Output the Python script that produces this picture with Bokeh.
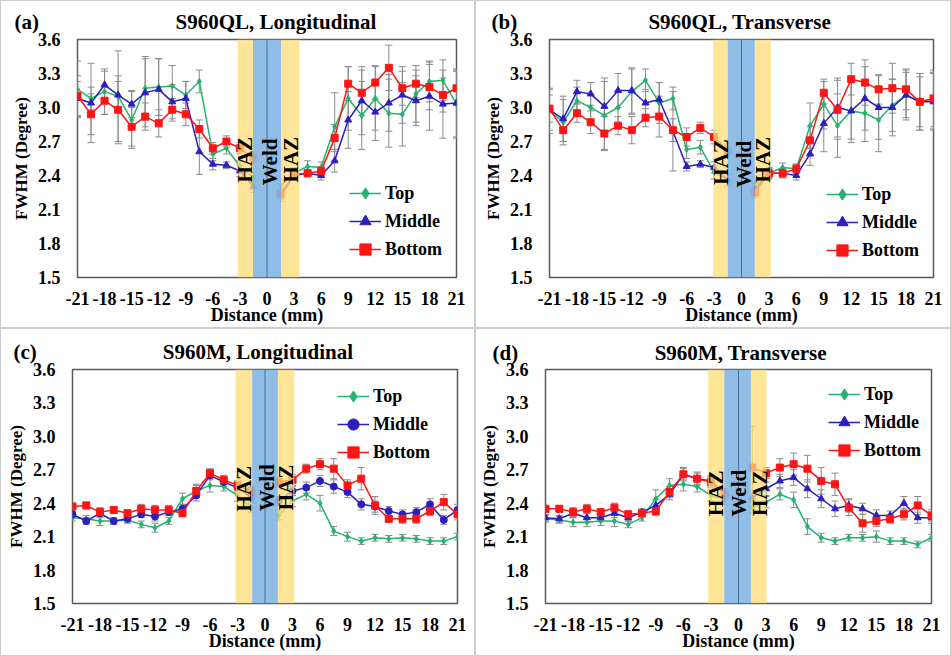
import math
import numpy as np
from bokeh.plotting import figure
from bokeh.layouts import column, row
from bokeh.models import (Range1d, FixedTicker, PrintfTickFormatter, Whisker, TeeHead,
                          ColumnDataSource, Label, Legend, LegendItem, Span)
from bokeh.embed import file_html
from bokeh.resources import INLINE

# ---------------- data ----------------
distance = [-21, -19.5, -18, -16.5, -15, -13.5, -12, -10.5, -9, -7.5, -6, -4.5, -3, -1.5,
            1.5, 3, 4.5, 6, 7.5, 9, 10.5, 12, 13.5, 15, 16.5, 18, 19.5, 21]
x_ticks = [-21, -18, -15, -12, -9, -6, -3, 0, 3, 6, 9, 12, 15, 18, 21]
y_ticks = [1.5, 1.8, 2.1, 2.4, 2.7, 3.0, 3.3, 3.6]
series_names = ["Top", "Middle", "Bottom"]

# (a) S960QL, Longitudinal
a_top = [3.16, 3.08, 3.14, 3.10, 2.89, 3.17, 3.18, 3.19, 3.11, 3.23, 2.59, 2.64, 2.48, 2.38,
         2.31, 2.42, 2.48, 2.47, 2.83, 3.08, 2.93, 3.08, 2.95, 2.94, 3.12, 3.23, 3.24, 3.03]
a_mid = [3.08, 3.04, 3.20, 3.11, 3.03, 3.13, 3.16, 3.05, 3.08, 2.61, 2.50, 2.49, 2.44, 2.30,
         2.22, 2.40, 2.42, 2.40, 2.53, 2.89, 3.06, 2.96, 3.04, 3.11, 3.06, 3.10, 3.03, 3.04]
a_bot = [3.10, 2.94, 3.06, 2.98, 2.83, 2.92, 2.86, 2.98, 2.94, 2.81, 2.64, 2.70, 2.64, 2.56,
         2.24, 2.41, 2.42, 2.44, 2.73, 3.21, 3.13, 3.22, 3.35, 3.17, 3.21, 3.18, 3.11, 3.17]
a_top_err = [0.25, 0.10, 0.20, 0.40, 0.25, 0.28, 0.25, 0.18, 0.12, 0.10, 0.06, 0.05, 0.05, 0.05,
             0.05, 0.05, 0.05, 0.05, 0.30, 0.28, 0.30, 0.28, 0.30, 0.28, 0.25, 0.18, 0.18, 0.30]
a_mid_err = [0.15, 0.35, 0.12, 0.12, 0.12, 0.30, 0.27, 0.15, 0.15, 0.20, 0.05, 0.03, 0.05, 0.05,
             0.05, 0.03, 0.03, 0.04, 0.10, 0.25, 0.30, 0.25, 0.25, 0.25, 0.22, 0.30, 0.30, 0.30]
a_bot_err = [0.18, 0.18, 0.12, 0.30, 0.17, 0.12, 0.12, 0.10, 0.10, 0.08, 0.05, 0.05, 0.05, 0.05,
             0.05, 0.03, 0.03, 0.04, 0.12, 0.15, 0.20, 0.15, 0.20, 0.15, 0.12, 0.20, 0.15, 0.15]

# (b) S960QL, Transverse
b_top = [2.97, 2.87, 3.06, 3.00, 2.93, 3.00, 3.14, 3.24, 3.04, 3.08, 2.63, 2.65, 2.43, 2.36,
         2.33, 2.42, 2.47, 2.46, 2.84, 3.03, 2.84, 2.97, 2.95, 2.89, 3.02, 3.11, 3.05, 3.06]
b_mid = [2.98, 2.90, 3.14, 3.12, 3.01, 3.15, 3.15, 3.04, 3.07, 2.79, 2.48, 2.50, 2.47, 2.36,
         2.28, 2.42, 2.42, 2.40, 2.59, 2.86, 3.00, 2.97, 3.08, 3.00, 3.00, 3.11, 3.05, 3.05]
b_bot = [2.99, 2.80, 2.95, 2.87, 2.77, 2.84, 2.80, 2.91, 2.92, 2.80, 2.74, 2.82, 2.74, 2.62,
         2.25, 2.42, 2.42, 2.46, 2.71, 3.13, 2.98, 3.25, 3.22, 3.16, 3.17, 3.16, 3.05, 3.08]
b_top_err = [0.20, 0.20, 0.12, 0.12, 0.30, 0.15, 0.20, 0.10, 0.18, 0.10, 0.08, 0.06, 0.06, 0.05,
             0.05, 0.05, 0.04, 0.04, 0.20, 0.22, 0.28, 0.28, 0.25, 0.28, 0.23, 0.20, 0.25, 0.25]
b_mid_err = [0.18, 0.20, 0.10, 0.10, 0.25, 0.15, 0.20, 0.12, 0.15, 0.35, 0.04, 0.03, 0.05, 0.05,
             0.05, 0.04, 0.04, 0.04, 0.10, 0.25, 0.26, 0.25, 0.28, 0.28, 0.25, 0.22, 0.25, 0.25]
b_bot_err = [0.12, 0.10, 0.08, 0.10, 0.15, 0.08, 0.12, 0.08, 0.18, 0.10, 0.08, 0.05, 0.06, 0.05,
             0.05, 0.04, 0.04, 0.04, 0.12, 0.10, 0.26, 0.14, 0.20, 0.13, 0.22, 0.18, 0.22, 0.25]

# (c) S960M, Longitudinal
c_top = [2.27, 2.26, 2.24, 2.24, 2.25, 2.21, 2.18, 2.24, 2.44, 2.51, 2.56, 2.55, 2.47, 2.36,
         2.29, 2.42, 2.48, 2.40, 2.15, 2.10, 2.06, 2.09, 2.08, 2.09, 2.08, 2.06, 2.06, 2.10]
c_mid = [2.30, 2.24, 2.31, 2.24, 2.26, 2.30, 2.28, 2.32, 2.35, 2.47, 2.65, 2.59, 2.54, 2.45,
         2.42, 2.51, 2.54, 2.60, 2.55, 2.50, 2.39, 2.37, 2.33, 2.30, 2.32, 2.39, 2.25, 2.34]
c_bot = [2.37, 2.38, 2.32, 2.34, 2.31, 2.35, 2.34, 2.34, 2.31, 2.51, 2.67, 2.61, 2.56, 2.51,
         2.59, 2.61, 2.71, 2.75, 2.71, 2.56, 2.62, 2.38, 2.26, 2.26, 2.26, 2.33, 2.41, 2.30]
c_top_err = [0.03, 0.03, 0.04, 0.03, 0.03, 0.03, 0.04, 0.03, 0.05, 0.06, 0.06, 0.04, 0.05, 0.04,
             0.04, 0.05, 0.05, 0.07, 0.04, 0.04, 0.03, 0.03, 0.03, 0.03, 0.03, 0.03, 0.03, 0.03]
c_mid_err = [0.03, 0.03, 0.04, 0.03, 0.03, 0.03, 0.04, 0.03, 0.04, 0.05, 0.04, 0.04, 0.04, 0.04,
             0.04, 0.04, 0.05, 0.05, 0.06, 0.05, 0.05, 0.05, 0.04, 0.04, 0.04, 0.05, 0.04, 0.05]
c_bot_err = [0.03, 0.03, 0.04, 0.03, 0.03, 0.04, 0.04, 0.04, 0.03, 0.05, 0.04, 0.04, 0.04, 0.04,
             0.04, 0.05, 0.04, 0.05, 0.09, 0.05, 0.10, 0.08, 0.03, 0.04, 0.04, 0.04, 0.07, 0.05]

# (d) S960M, Transverse
d_top = [2.26, 2.25, 2.23, 2.23, 2.24, 2.24, 2.21, 2.27, 2.44, 2.56, 2.57, 2.55, 2.47, 2.43,
         2.36, 2.41, 2.48, 2.43, 2.19, 2.09, 2.06, 2.09, 2.09, 2.10, 2.06, 2.06, 2.03, 2.09]
d_mid = [2.27, 2.26, 2.31, 2.27, 2.27, 2.31, 2.27, 2.32, 2.38, 2.48, 2.66, 2.62, 2.60, 2.48,
         2.45, 2.53, 2.60, 2.63, 2.53, 2.44, 2.35, 2.38, 2.35, 2.29, 2.29, 2.40, 2.27, 2.27]
d_bot = [2.35, 2.35, 2.32, 2.35, 2.32, 2.36, 2.30, 2.31, 2.33, 2.50, 2.66, 2.62, 2.59, 2.48,
         2.72, 2.67, 2.72, 2.75, 2.71, 2.60, 2.57, 2.36, 2.22, 2.24, 2.26, 2.30, 2.38, 2.29]
d_top_err = [0.03, 0.03, 0.04, 0.04, 0.04, 0.05, 0.03, 0.03, 0.08, 0.06, 0.06, 0.05, 0.05, 0.04,
             0.05, 0.05, 0.05, 0.07, 0.07, 0.04, 0.03, 0.03, 0.03, 0.05, 0.03, 0.03, 0.03, 0.03]
d_mid_err = [0.03, 0.03, 0.04, 0.04, 0.03, 0.04, 0.03, 0.03, 0.05, 0.05, 0.06, 0.05, 0.05, 0.05,
             0.05, 0.06, 0.06, 0.07, 0.08, 0.08, 0.07, 0.06, 0.05, 0.05, 0.04, 0.06, 0.05, 0.05]
d_bot_err = [0.03, 0.03, 0.04, 0.04, 0.03, 0.04, 0.03, 0.03, 0.04, 0.05, 0.05, 0.06, 0.05, 0.05,
             0.37, 0.05, 0.08, 0.10, 0.12, 0.12, 0.10, 0.07, 0.08, 0.05, 0.04, 0.05, 0.08, 0.05]

# zone limits: HAZ left start, weld start, weld end, HAZ right end
a_zones = [-3.25, -1.55, 1.55, 3.6]
b_zones = [-3.1, -1.5, 1.45, 3.2]
c_zones = [-3.2, -1.4, 1.4, 3.2]
d_zones = [-3.3, -1.55, 1.35, 3.05]

FONT = "Liberation Serif"
COLORS = ["#25b26e", "#2d1ec0", "#ff1414"]
ERR_COLOR = "#8a8a8a"
NBSP = "\u00a0"


def make_panel(tag, title, data, errs, zones, mid_marker, cfg):
    w, h, bl, br, bt, bb = cfg["size"]
    p = figure(width=w, height=h, output_backend="svg", toolbar_location=None,
               x_range=Range1d(-21, 21), y_range=Range1d(1.5, 3.6),
               min_border_left=bl, min_border_right=br, min_border_top=bt, min_border_bottom=bb,
               background_fill_color="white", border_fill_color="white",
               styles={"border": "1px solid #cdcdcd", "box-sizing": "border-box"})
    p.grid.visible = False
    p.outline_line_color = "#595959"
    p.outline_line_width = 1.5
    for ax in (p.xaxis[0], p.yaxis[0]):
        ax.axis_line_color = None
        ax.major_tick_line_color = None
        ax.minor_tick_line_color = None
        ax.major_tick_out = 0
        ax.major_tick_in = 0
        ax.major_label_text_font = FONT
        ax.major_label_text_font_style = "bold"
        ax.major_label_text_font_size = "18px"
        ax.major_label_text_color = "black"
        ax.axis_label_text_font = FONT
        ax.axis_label_text_font_style = "bold"
        ax.axis_label_text_color = "black"
    p.xaxis.ticker = FixedTicker(ticks=x_ticks)
    p.yaxis.ticker = FixedTicker(ticks=y_ticks)
    p.xaxis.formatter = PrintfTickFormatter(format="%d")
    p.yaxis.formatter = PrintfTickFormatter(format="%.1f")
    p.xaxis.axis_label = "Distance (mm)"
    p.yaxis.axis_label = "FWHM (Degree)"
    p.xaxis.axis_label_text_font_size = "18px"
    p.yaxis.axis_label_text_font_size = "17px"
    p.xaxis.major_label_standoff = 14
    p.yaxis.major_label_standoff = 17
    p.xaxis.axis_label_standoff = -3
    p.yaxis.axis_label_standoff = 4

    # panel tag and title share one title line (tag at the far left, title further right)
    p.title.text = tag + NBSP * cfg["gap"] + title
    p.title.align = "left"
    p.title.text_font = FONT
    p.title.text_font_style = "bold"
    p.title.text_font_size = "21px"
    p.title.text_color = "black"
    p.title.standoff = cfg["title_standoff"]
    p.title.offset = cfg["tag_x"] - bl

    markers = ["diamond", mid_marker, "square"]
    sizes = [6, 7, 7]
    items = []
    n_left = sum(1 for d in distance if d < 0)
    for name, ys, es, col, mk, sz in zip(series_names, data, errs, COLORS, markers, sizes):
        src = ColumnDataSource(dict(x=distance, y=ys,
                                    lo=[v - e for v, e in zip(ys, es)],
                                    hi=[v + e for v, e in zip(ys, es)]))
        wk = Whisker(source=src, base="x", lower="lo", upper="hi", line_color=ERR_COLOR,
                     line_width=1, level="underlay",
                     lower_head=TeeHead(size=7, line_color=ERR_COLOR, line_width=1),
                     upper_head=TeeHead(size=7, line_color=ERR_COLOR, line_width=1))
        p.add_layout(wk)
        lx = list(distance[:n_left]) + [np.nan] + list(distance[n_left:])
        ly = list(ys[:n_left]) + [np.nan] + list(ys[n_left:])
        r1 = p.line(lx, ly, line_color=col, line_width=1.5)
        r2 = p.scatter("x", "y", source=src, marker=mk, size=sz, fill_color=col, line_color=col)
        items.append(LegendItem(label=name, renderers=[r1, r2]))

    # shaded zones drawn over the curves
    p.quad(left=[zones[0], zones[2]], right=[zones[1], zones[3]], bottom=1.5, top=3.6,
           fill_color="#FFDC74", fill_alpha=0.75, line_color=None)
    p.quad(left=[zones[1]], right=[zones[2]], bottom=1.5, top=3.6,
           fill_color="#86B7E3", fill_alpha=0.92, line_color=None)
    p.add_layout(Span(location=0, dimension="height", line_color="#4a6f96", line_width=1))

    for txt, (tx, ty) in zip(["HAZ", "Weld", "HAZ"], cfg["zone_text"]):
        p.add_layout(Label(x=tx, y=ty, text=txt, angle=math.pi / 2, text_align="center",
                           text_baseline="middle", text_font=FONT, text_font_style="bold",
                           text_font_size="21px", text_color="black"))

    leg = Legend(items=items, location=cfg["legend_loc"], orientation="vertical",
                 background_fill_alpha=0, border_line_color=None, margin=0, padding=0,
                 spacing=0, label_height=28, glyph_height=28, glyph_width=32,
                 label_standoff=4, label_text_font=FONT, label_text_font_style="bold",
                 label_text_font_size="18px", label_text_color="black")
    p.add_layout(leg)
    return p


pa = make_panel("(a)", "S960QL, Longitudinal", [a_top, a_mid, a_bot], [a_top_err, a_mid_err, a_bot_err],
                a_zones, "triangle",
                dict(size=(475, 328, 76, 20, 38, 52), zone_text=[(-2.45, 2.54), (0.3, 2.52), (2.65, 2.54)],
                     tag_x=13, gap=26, title_standoff=12, legend_loc=(272, 14)))
pb = make_panel("(b)", "S960QL, Transverse", [b_top, b_mid, b_bot], [b_top_err, b_mid_err, b_bot_err],
                b_zones, "triangle",
                dict(size=(476, 328, 73, 19, 35, 52), zone_text=[(-2.25, 2.52), (0.3, 2.5), (2.4, 2.54)],
                     tag_x=15, gap=25, title_standoff=12, legend_loc=(277, 13)))
pc = make_panel("(c)", "S960M, Longitudinal", [c_top, c_mid, c_bot], [c_top_err, c_mid_err, c_bot_err],
                c_zones, "circle",
                dict(size=(475, 328, 71, 19, 39, 54), zone_text=[(-2.3, 2.53), (0.18, 2.54), (2.3, 2.54)],
                     tag_x=12, gap=24, title_standoff=11, legend_loc=(265, 137)))
pd_ = make_panel("(d)", "S960M, Transverse", [d_top, d_mid, d_bot], [d_top_err, d_mid_err, d_bot_err],
                 d_zones, "triangle",
                 dict(size=(476, 328, 69, 21, 40, 54), zone_text=[(-2.4, 2.49), (0.0, 2.49), (2.3, 2.49)],
                      tag_x=16, gap=26, title_standoff=9, legend_loc=(283, 139)))

layout = column(row(pa, pb), row(pc, pd_))
open("out.html", "w").write(file_html(layout, INLINE))
